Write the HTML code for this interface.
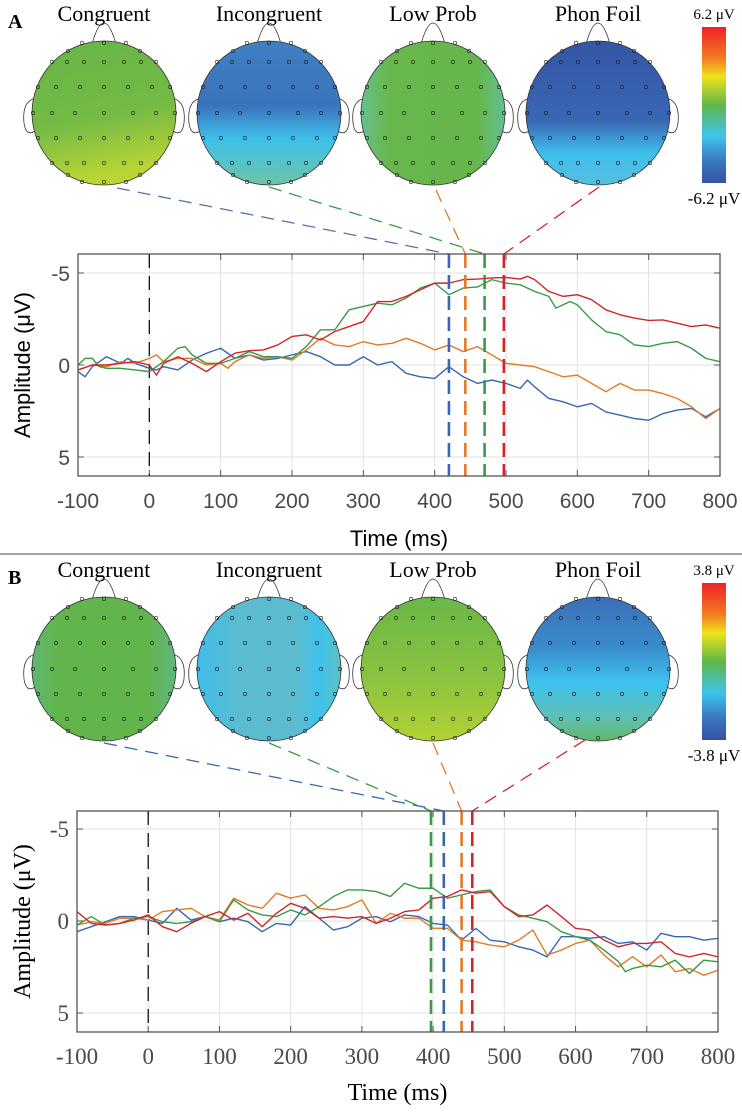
<!DOCTYPE html>
<html><head><meta charset="utf-8"><style>
html,body{margin:0;padding:0;background:#fff;}
svg{display:block;}
.ser{font-family:"Liberation Serif",serif;}
.san{font-family:"Liberation Sans",sans-serif;}
</style></head><body>
<svg id="fig" width="742" height="1114" viewBox="0 0 742 1114" xmlns="http://www.w3.org/2000/svg">
<defs>
<linearGradient id="cbar" x1="0" y1="0" x2="0" y2="1">
<stop offset="0" stop-color="#ee2226"/><stop offset="0.2" stop-color="#f37b21"/><stop offset="0.32" stop-color="#efe21c"/><stop offset="0.5" stop-color="#5fb748"/><stop offset="0.7" stop-color="#3ec4ee"/><stop offset="0.85" stop-color="#3a7cc0"/><stop offset="1" stop-color="#3551a4"/>
</linearGradient>
<linearGradient id="gA1" x1="0" y1="0" x2="0.2" y2="1"><stop offset="0" stop-color="#67b548"/><stop offset="0.6" stop-color="#74ba45"/><stop offset="1" stop-color="#b9d534"/></linearGradient>
<linearGradient id="gA2" x1="0" y1="0" x2="0" y2="1"><stop offset="0" stop-color="#3f80c3"/><stop offset="0.45" stop-color="#3a74bc"/><stop offset="0.68" stop-color="#3ec0ea"/><stop offset="1" stop-color="#6cc4a6"/></linearGradient>
<linearGradient id="gA3" x1="0" y1="0" x2="1" y2="0"><stop offset="0" stop-color="#66c08c"/><stop offset="0.2" stop-color="#68b74a"/><stop offset="0.8" stop-color="#66b64a"/><stop offset="1" stop-color="#62bf90"/></linearGradient>
<linearGradient id="gA4" x1="0" y1="0" x2="0" y2="1"><stop offset="0" stop-color="#3456a6"/><stop offset="0.55" stop-color="#3966b2"/><stop offset="0.78" stop-color="#3ebfec"/><stop offset="1" stop-color="#56bde0"/></linearGradient>
<linearGradient id="gB1" x1="0" y1="0" x2="1" y2="0"><stop offset="0" stop-color="#5fb770"/><stop offset="0.2" stop-color="#62b54a"/><stop offset="0.8" stop-color="#62b54a"/><stop offset="1" stop-color="#5fb880"/></linearGradient>
<linearGradient id="gB2" x1="0" y1="0" x2="1" y2="0"><stop offset="0" stop-color="#3fbde8"/><stop offset="0.3" stop-color="#5bbcd0"/><stop offset="0.7" stop-color="#5bbcd0"/><stop offset="0.85" stop-color="#3ec2ee"/><stop offset="1" stop-color="#5fc0c0"/></linearGradient>
<linearGradient id="gB3" x1="0" y1="0" x2="0" y2="1"><stop offset="0" stop-color="#6ab748"/><stop offset="0.6" stop-color="#8dc43f"/><stop offset="1" stop-color="#b3d234"/></linearGradient>
<linearGradient id="gB4" x1="0" y1="0" x2="0" y2="1"><stop offset="0" stop-color="#3a70b8"/><stop offset="0.35" stop-color="#3a8ccc"/><stop offset="0.6" stop-color="#3ec3ee"/><stop offset="0.85" stop-color="#60bfae"/><stop offset="1" stop-color="#62b86a"/></linearGradient>
</defs>
<g id="root"></g>
</svg>
<script>
// ---- data: Panel A (μV; negative plotted upward) ----
const tickX = [-100,0,100,200,300,400,500,600,700,800];
const tickY = [-5,0,5];
const titles = ["Congruent","Incongruent","Low Prob","Phon Foil"];
const peaksA = [420,443,470,497]; // blue, orange, green, red
const peaksB = [415,440,397,455];
const redA_t = [-100,-80,-60,-40,-20,0,10,20,40,60,80,100,120,140,160,180,200,220,240,260,280,300,320,340,360,380,400,420,440,460,480,500,520,530,540,560,580,600,620,640,660,680,700,720,740,760,780,800];
const redA_v = [.27,0,0,-.09,-.18,0,.55,-.09,-.45,-.09,.36,-.18,-.64,-.78,-.82,-1.09,-1.55,-1.64,-1.36,-1.82,-2.09,-2.36,-3.45,-3.45,-3.73,-4.09,-4.45,-4.45,-4.64,-4.67,-4.73,-4.76,-4.67,-4.82,-4.64,-4.0,-3.73,-3.82,-3.55,-3.0,-2.73,-2.55,-2.42,-2.45,-2.27,-2.09,-2.18,-2.0];
const greenA_t = [-100,-90,-80,-70,-60,-40,-20,0,20,40,50,60,80,100,120,140,160,180,200,220,240,260,280,300,320,340,360,380,400,420,440,460,480,500,520,540,560,570,590,600,620,640,660,680,700,720,740,760,780,800];
const greenA_v = [0,-.36,-.36,.09,.18,.18,.27,.36,-.18,-.91,-1.0,-.55,-.09,-.09,-.36,-.73,-.45,-.45,-.36,-1.0,-1.91,-1.91,-3.0,-3.18,-3.36,-3.27,-3.64,-4.18,-4.45,-3.82,-4.18,-4.24,-4.64,-4.45,-4.36,-4.0,-3.73,-3.09,-3.45,-3.27,-2.45,-1.82,-1.64,-1.09,-1.0,-1.18,-1.27,-0.91,-0.36,-0.18];
const orangeA_t = [-100,-80,-60,-40,-20,0,10,20,40,60,80,100,110,120,140,160,180,200,220,240,260,280,300,320,340,360,380,400,420,440,460,480,500,520,540,560,580,600,620,640,660,680,700,720,740,760,780,800];
const orangeA_v = [.27,0,.09,-.18,-.09,-.36,-.55,-.18,-.36,-.36,0,-.09,.18,-.18,-.55,-.36,-.45,-.27,-.82,-1.45,-1.09,-1.0,-1.27,-1.09,-1.18,-1.45,-1.18,-.82,-1.09,-.73,-1.0,-.55,-.09,0,.09,.36,.64,.55,1.0,1.45,1.0,1.36,1.36,1.55,1.82,2.27,2.91,2.36];
const blueA_t = [-100,-90,-80,-60,-40,-30,-20,0,10,20,40,60,80,100,120,140,160,180,200,220,240,260,280,300,320,340,360,380,400,420,440,460,480,500,520,530,540,560,580,600,620,640,660,680,700,720,740,760,780,800];
const blueA_v = [.36,.64,.09,-.45,-.09,-.36,-.09,.18,.27,.09,.27,-.27,-.64,-.91,-.36,-.55,-.27,-.36,-.55,-.73,-.45,0,0,-.45,0,-.18,.45,.64,.73,.09,.64,1.0,.82,1.0,1.27,.82,1.18,1.82,2.0,2.27,2.09,2.55,2.73,2.91,3.0,2.64,2.45,2.36,2.82,2.36];
// ---- data: Panel B ----
const greenB_t = [-100,-80,-60,-40,-20,0,20,40,60,80,100,120,140,160,180,200,220,240,260,280,300,320,340,360,380,400,420,440,460,480,500,520,540,560,580,600,620,640,660,670,680,700,720,740,760,780,800];
const greenB_v = [.22,-.24,.22,.13,-.15,-.24,.04,.13,.04,-.24,.04,-1.15,-.6,-.33,-.24,-.6,-.33,-.78,-1.33,-1.69,-1.69,-1.6,-1.33,-2.05,-1.78,-1.78,-1.24,-1.42,-1.6,-1.69,-.78,-.33,-.15,.04,.58,.85,1.04,1.58,2.2,2.76,2.58,2.4,2.49,2.13,2.85,2.13,2.22];
const timesB = [-100,-80,-60,-40,-20,0,20,40,60,80,100,120,140,160,180,200,220,240,260,280,300,320,340,360,380,400,420,440,460,480,500,520,540,560,580,600,620,640,660,680,700,720,740,760,780,800];
const redB_v = [-.51,.13,.22,.13,-.05,-.33,.31,.58,.13,-.24,-.51,-.05,-.42,.31,-.42,-.96,-.69,-.15,-.24,-.15,-.24,.13,-.15,-.51,-.6,-1.24,-1.33,-1.69,-1.51,-1.6,-.78,-.24,-.33,-.87,-.24,.4,.49,1.04,1.4,1.22,1.22,1.13,1.76,1.95,1.76,1.95];
const orangeB_v = [.22,.04,.13,-.15,-.15,-.05,-.51,-.6,-.69,-.24,-.05,-1.24,-.87,-.69,-1.51,-1.24,-1.42,-.69,-.6,-.78,-1.15,.13,-.42,-.15,-.15,.4,.4,1.04,1.13,1.31,1.4,1.04,.49,1.85,1.58,1.22,1.04,1.85,2.49,1.94,2.49,1.85,2.76,2.58,2.95,2.67];
const blueB_v = [.58,.31,.04,-.24,-.24,-.05,.13,-.69,-.05,-.24,.04,-.15,.04,.58,.13,.22,-.78,-.15,.49,.31,-.15,-.24,.04,-.33,-.24,.13,.22,1.04,.4,1.04,1.13,1.4,1.58,1.95,.85,.85,.94,.85,1.22,1.13,1.58,.67,.85,.85,1.04,.94];

const C = {blue:"#3567b5", orange:"#e07b28", green:"#3a9a47", red:"#d0262b"};
const NS = "http://www.w3.org/2000/svg";
const root = document.getElementById('root');
function mk(tag, attrs, parent){const e=document.createElementNS(NS,tag);for(const k in attrs)e.setAttribute(k,attrs[k]);(parent||root).appendChild(e);return e;}

function head(cx, cy, grad, name){
  const g = mk('g',{});
  
  
  const r=72;
  mk('path',{d:`M${cx-12} ${cy-r+3} Q${cx-6} ${cy-r-18} ${cx} ${cy-r-18} Q${cx+6} ${cy-r-18} ${cx+12} ${cy-r+3}`,fill:'none',stroke:'#333','stroke-width':0.8},g);
  mk('path',{d:`M${cx-r+1} ${cy-14} Q${cx-r-10} ${cy-10} ${cx-r-8} ${cy+10} Q${cx-r-6} ${cy+24} ${cx-r+3} ${cy+18}`,fill:'none',stroke:'#333','stroke-width':0.8},g);
  mk('path',{d:`M${cx+r-1} ${cy-14} Q${cx+r+10} ${cy-10} ${cx+r+8} ${cy+10} Q${cx+r+6} ${cy+24} ${cx+r-3} ${cy+18}`,fill:'none',stroke:'#333','stroke-width':0.8},g);
  mk('ellipse',{cx:cx,cy:cy,rx:r,ry:r,fill:`url(#${grad})`,stroke:'#333','stroke-width':0.8},g);
  const rows=[[-70,[-22,0,22]],[-51,[-52,-37,-20,0,20,37,52]],[-26,[-66,-48,-24,0,24,48,66]],[0,[-71,-52,-29,0,29,52,71]],[25,[-66,-48,-24,0,24,48,66]],[50,[-52,-37,-20,0,20,37,52]],[69,[-22,0,22]]];
  rows.forEach(([dy,xs])=>xs.forEach(dx=>mk('circle',{cx:cx+dx,cy:cy+dy,r:1.7,fill:'none',stroke:'#222','stroke-width':0.6},g)));
  mk('circle',{cx:cx-36,cy:cy-62,r:1.7,fill:'none',stroke:'#222','stroke-width':0.6},g);
  mk('circle',{cx:cx+36,cy:cy-62,r:1.7,fill:'none',stroke:'#222','stroke-width':0.6},g);
  mk('circle',{cx:cx-36,cy:cy+62,r:1.7,fill:'none',stroke:'#222','stroke-width':0.6},g);
  mk('circle',{cx:cx+36,cy:cy+62,r:1.7,fill:'none',stroke:'#222','stroke-width':0.6},g);
}

function panel(o){
  const L=o.L,R=o.R,T=o.T,B=o.B,y0=o.y0,y5=o.y5;
  const xs=t=>L+(t+100)*(R-L)/900;
  const ys=v=>y0+v*(y5-y0)/5;
  const lbl = mk('text',{x:8,y:o.hy-85,'font-size':20,'font-weight':'bold',class:'ser'});
  
  
  lbl.textContent=o.id.toUpperCase();
  const hx=[104,269,433,598], grads=o.grads;
  titles.forEach((tt,i)=>{
    const t=mk('text',{x:hx[i],y:o.hy-92,'font-size':22,'text-anchor':'middle',class:'ser'});
    
    
    t.textContent=tt;
    head(hx[i],o.hy,grads[i],'topo-map-'+o.id+'-'+i);
  });
  const cb=mk('rect',{x:702,y:o.cbT,width:24,height:o.cbB-o.cbT,fill:'url(#cbar)'});
  
  
  const c1=mk('text',{x:714,y:o.cbT-8,'font-size':15,'text-anchor':'middle',class:'ser'});
  
  
  c1.textContent=o.cmax+' μV';
  const c2=mk('text',{x:714,y:o.cbB+21,'font-size':17,'text-anchor':'middle',class:'ser'});
  
  
  c2.textContent='-'+o.cmax+' μV';
  // grid
  tickX.forEach(t=>{
    const gl=mk('line',{x1:xs(t),x2:xs(t),y1:T,y2:B,stroke:'#e2e2e2','stroke-width':1});
    
    
    mk('line',{x1:xs(t),x2:xs(t),y1:T,y2:T+6,stroke:'#555','stroke-width':1});
    mk('line',{x1:xs(t),x2:xs(t),y1:B,y2:B-6,stroke:'#555','stroke-width':1});
    const tl=mk('text',{x:xs(t),y:B+o.tkOff,'font-size':o.tkSize,'text-anchor':'middle',fill:'#4a4a4a',class:o.font});
    
    
    tl.textContent=t;
  });
  tickY.forEach(v=>{
    const gl=mk('line',{x1:L,x2:R,y1:ys(v),y2:ys(v),stroke:'#e2e2e2','stroke-width':1});
    
    
    mk('line',{x1:L,x2:L+6,y1:ys(v),y2:ys(v),stroke:'#555'});
    mk('line',{x1:R,x2:R-6,y1:ys(v),y2:ys(v),stroke:'#555'});
    const tl=mk('text',{x:L-8,y:ys(v)+8,'font-size':o.tkSize,'text-anchor':'end',fill:'#4a4a4a',class:o.font});
    
    
    tl.textContent=v;
  });
  const z=mk('line',{x1:xs(0),x2:xs(0),y1:T,y2:B,stroke:'#111','stroke-width':1.3,'stroke-dasharray':'14 8'});
  
  
  o.series.forEach(s=>{
    const p=mk('polyline',{points:s.t.map((t,i)=>xs(t)+','+ys(s.v[i])).join(' '),fill:'none',stroke:s.c,'stroke-width':1.4,'stroke-linejoin':'round'});
    
    
  });
  // peak lines and connectors
  const cols=[C.blue,C.orange,C.green,C.red];
  o.peaks.forEach((pk,i)=>{
    const vl=mk('line',{x1:xs(pk),x2:xs(pk),y1:T,y2:B,stroke:cols[i],'stroke-width':2.6,'stroke-dasharray':'14 7'});
    
    
  });
  o.conn.forEach(([x1,y1,pi,c])=>{
    const cl=mk('line',{x1:x1,y1:y1,x2:xs(o.peaks[pi]),y2:T,stroke:c,'stroke-width':1.3,'stroke-dasharray':'13 8'});
    
    
  });
  const fr=mk('rect',{x:L,y:T,width:R-L,height:B-T,fill:'none',stroke:'#555','stroke-width':1.3});
  
  
  const yl=mk('text',{x:0,y:0,'font-size':o.lblSize,'text-anchor':'middle',transform:`translate(${o.ylx},${(T+B)/2}) rotate(-90)`,class:o.font});
  
  
  yl.textContent='Amplitude (μV)';
  const xl=mk('text',{x:(L+R)/2,y:o.xly,'font-size':o.lblSize,'text-anchor':'middle',class:o.font});
  
  
  xl.textContent='Time (ms)';
}

panel({id:'a',L:78,R:720,T:254,B:476,y0:365,y5:457,hy:113,cbT:27,cbB:183,cmax:'6.2',
  grads:['gA1','gA2','gA3','gA4'],font:'san',tkSize:21,tkOff:32,lblSize:22,ylx:30,xly:546,peaks:peaksA,
  series:[{n:'blue',t:blueA_t,v:blueA_v,c:C.blue},{n:'orange',t:orangeA_t,v:orangeA_v,c:C.orange},{n:'green',t:greenA_t,v:greenA_v,c:C.green},{n:'red',t:redA_t,v:redA_v,c:C.red}],
  conn:[[117,188,0,'#5573a8'],[269,187,2,C.green],[436,190,1,C.orange],[599,187,3,C.red]]});
panel({id:'b',L:77,R:718,T:811,B:1032,y0:921,y5:1013,hy:669,cbT:583,cbB:740,cmax:'3.8',
  grads:['gB1','gB2','gB3','gB4'],font:'ser',tkSize:23,tkOff:32,lblSize:24,ylx:30,xly:1100,peaks:peaksB,
  series:[{n:'blue',t:timesB,v:blueB_v,c:C.blue},{n:'orange',t:timesB,v:orangeB_v,c:C.orange},{n:'green',t:greenB_t,v:greenB_v,c:C.green},{n:'red',t:timesB,v:redB_v,c:C.red}],
  conn:[[104,743,0,C.blue],[269,743,2,C.green],[433,743,1,C.orange],[585,740,3,C.red]]});
const div=mk('line',{x1:0,x2:742,y1:554,y2:554,stroke:'#444','stroke-width':1});


</script>
</body></html>
